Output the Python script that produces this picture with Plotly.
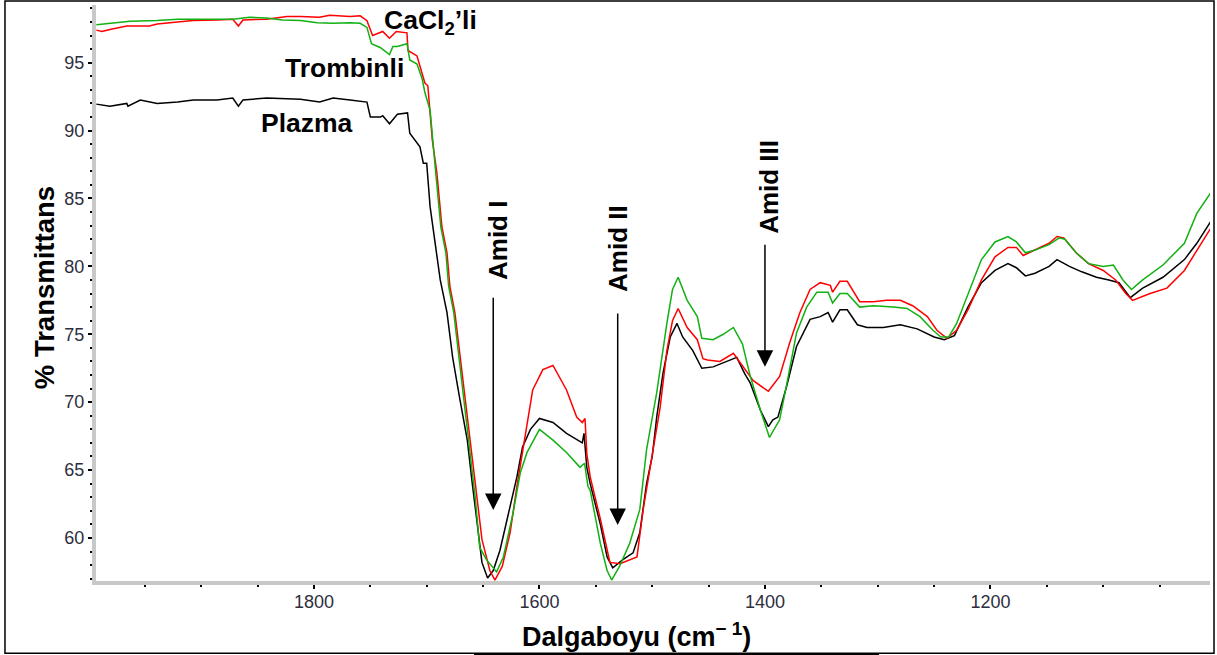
import plotly.graph_objects as go

# ---------------- data (wavenumber cm-1, % transmittance) ----------------
plazma_wn = [1993, 1981, 1966, 1965, 1954, 1939, 1921, 1907, 1886, 1872, 1867, 1863, 1842, 1812,
             1795, 1783, 1768, 1753, 1750, 1741, 1739, 1733, 1726, 1717, 1715, 1706, 1703, 1700,
             1697, 1693, 1688, 1682, 1677, 1671, 1664, 1660, 1655, 1651, 1646, 1641, 1635, 1626,
             1620, 1615, 1608, 1600, 1588, 1576, 1562, 1560.5, 1558, 1555, 1546, 1540, 1535, 1526,
             1517, 1511, 1505, 1500, 1496, 1490.5, 1484, 1478, 1473, 1464, 1456, 1446, 1437, 1425,
             1418, 1413, 1404, 1397, 1393, 1388.5, 1381, 1372, 1360, 1351, 1344, 1340, 1333.5, 1327,
             1318, 1309.5, 1295, 1280, 1265, 1250, 1241, 1232, 1220, 1208, 1196, 1184.5, 1177, 1169,
             1160.5, 1148, 1141, 1130, 1119, 1106, 1095, 1086, 1076, 1065, 1047, 1028, 1017, 1004]
plazma_T = [91.95, 91.8, 92.0, 91.8, 92.25, 92.0, 92.1, 92.25, 92.25, 92.4, 91.8, 92.25, 92.4, 92.3,
            92.1, 92.4, 92.25, 92.1, 91.0, 91.0, 91.1, 90.5, 91.2, 91.3, 89.8, 88.8, 87.6, 87.6,
            84.4, 81.9, 79.0, 76.6, 73.3, 70.4, 67.2, 64.3, 60.8, 58.2, 57.05, 57.6, 59.1, 62.3,
            64.5, 66.7, 68.0, 68.8, 68.5, 67.7, 67.0, 67.7, 65.2, 64.0, 61.0, 58.6, 57.8, 58.4,
            58.9, 60.4, 64.0, 66.0, 68.9, 72.1, 74.8, 75.8, 74.8, 73.8, 72.5, 72.6, 72.9, 73.3,
            72.1, 71.4, 69.4, 68.2, 68.7, 68.9, 71.1, 74.1, 76.1, 76.3, 76.6, 75.9, 76.8, 76.8,
            75.7, 75.5, 75.5, 75.7, 75.4, 74.8, 74.6, 74.9, 77.0, 78.8, 79.7, 80.2, 79.9, 79.3,
            79.5, 80.0, 80.5, 80.0, 79.6, 79.2, 79.0, 78.8, 77.7, 78.4, 79.2, 80.5, 81.7, 83.4]

trombin_wn = [1993, 1976, 1963, 1939, 1921, 1901, 1872, 1857, 1842, 1828, 1812, 1797, 1783, 1768,
              1759, 1753, 1749, 1741, 1733, 1730, 1726, 1717.5, 1715, 1708.6, 1704, 1701.6, 1697,
              1692, 1687.5, 1683, 1680.5, 1676, 1669, 1663, 1657, 1653, 1647, 1638, 1632, 1623.5,
              1617, 1611, 1600, 1588, 1576, 1564, 1560, 1557, 1555, 1546, 1540, 1536, 1529, 1520,
              1511, 1505, 1496, 1487, 1482, 1477, 1469, 1460, 1456, 1446, 1437, 1428, 1422, 1420,
              1413, 1404, 1396, 1387, 1380.5, 1372, 1363, 1354, 1344, 1340, 1333.5, 1327, 1316,
              1304, 1286, 1274, 1262.5, 1251, 1244, 1237, 1230, 1220, 1208, 1196, 1184.5, 1177,
              1169, 1160.5, 1148, 1139, 1134, 1124, 1113, 1100, 1091, 1082.5, 1075, 1065, 1047,
              1028, 1017, 1004]
trombin_T = [97.8, 97.95, 98.05, 98.1, 98.2, 98.2, 98.2, 98.35, 98.3, 98.15, 98.1, 97.95, 97.9, 97.95,
             97.9, 97.6, 96.4, 96.1, 95.6, 96.2, 96.2, 96.4, 95.2, 94.9, 93.8, 92.8, 91.5,
             86.9, 82.9, 81.0, 78.5, 76.6, 71.6, 67.2, 63.0, 59.3, 58.4, 57.5, 58.6, 61.8,
             64.8, 66.3, 68.0, 67.2, 66.3, 65.2, 65.5, 63.8, 63.5, 59.6, 57.6, 56.9, 57.9, 59.6,
             62.1, 66.5, 70.7, 75.8, 78.3, 79.2, 77.5, 76.3, 74.7, 74.6, 75.0, 75.5, 74.6, 74.3,
             71.9, 69.4, 67.4, 68.7, 71.4, 75.1, 77.0, 78.1, 78.1, 77.3, 78.0, 78.0, 77.0,
             77.1, 77.0, 76.9, 76.3, 75.3, 74.8, 74.8, 75.8, 78.0, 80.5, 81.8, 82.2, 81.8,
             81.0, 81.2, 81.6, 82.1, 82.0, 81.0, 80.2, 80.0, 80.1, 79.0, 78.3, 79.0, 80.1,
             81.7, 83.9, 85.5]

cacl2_wn = [1993, 1988, 1981, 1966, 1946, 1939, 1921, 1907, 1886, 1872, 1867, 1863, 1842, 1824,
            1812, 1795, 1786, 1768, 1759, 1753, 1748, 1739, 1733, 1727, 1717.5, 1716.6, 1708.6,
            1704, 1701.6, 1699, 1697, 1695, 1691, 1686.5, 1682, 1679.4, 1675, 1668, 1661.6, 1655.4,
            1651, 1644, 1639.5, 1633, 1626, 1620, 1613, 1606, 1597, 1588, 1576, 1567, 1562, 1559.6,
            1558, 1555, 1546, 1537.5, 1528.6, 1520, 1513.5, 1508, 1502, 1493, 1487, 1482, 1477,
            1469, 1460, 1455, 1451, 1440, 1428, 1419.5, 1410.6, 1397, 1387, 1378, 1369, 1360,
            1351, 1342, 1340, 1333.5, 1327, 1316, 1304, 1292, 1280, 1269, 1256, 1247.5, 1238.6,
            1230, 1220, 1208, 1196, 1184.5, 1177, 1171, 1160.5, 1148, 1141, 1135, 1124, 1113,
            1100, 1089, 1080, 1074, 1058.5, 1043.5, 1028, 1017, 1004]
cacl2_T = [97.4, 97.3, 97.45, 97.7, 97.7, 97.85, 98.0, 98.1, 98.15, 98.2, 97.7, 98.15, 98.2, 98.4,
           98.4, 98.35, 98.5, 98.4, 98.45, 98.1, 97.0, 97.3, 96.8, 97.3, 97.2, 95.9, 95.5,
           94.2, 93.5, 93.3, 91.5, 89.3, 86.9, 82.9, 81.0, 78.5, 76.6, 71.6, 67.2, 63.0,
           59.9, 57.6, 56.9, 57.9, 60.4, 63.8, 67.2, 70.9, 72.4, 72.7, 70.9, 68.9, 68.5, 68.8,
           66.2, 64.5, 61.4, 58.2, 58.1, 58.4, 58.6, 62.1, 65.2, 69.6, 73.8, 76.0, 76.9,
           75.5, 74.6, 73.2, 73.1, 73.0, 73.6, 72.6, 71.6, 70.8, 71.9, 74.4, 76.6, 78.3,
           78.8, 78.6, 78.1, 78.9, 78.9, 77.4, 77.4, 77.5, 77.5, 77.1, 76.3, 75.3, 74.7,
           75.3, 76.8, 79.0, 80.7, 81.4, 81.4, 80.8, 81.2, 81.7, 82.2, 82.1, 81.0, 80.2,
           79.7, 79.0, 78.0, 77.5, 78.0, 78.4, 79.7, 81.2, 82.9]

x_ticks = [1800, 1600, 1400, 1200]
y_ticks = [60, 65, 70, 75, 80, 85, 90, 95]

# ---------------- figure ----------------
BOLD = "Liberation Sans, Arial, sans-serif"
TICKF = "Liberation Sans Narrow, Arial Narrow, Liberation Sans, Arial, sans-serif"

fig = go.Figure()
fig.add_trace(go.Scatter(x=plazma_wn, y=plazma_T, mode="lines", name="Plazma",
                         line=dict(color="#000000", width=1.5)))
fig.add_trace(go.Scatter(x=cacl2_wn, y=cacl2_T, mode="lines", name="CaCl2'li",
                         line=dict(color="#ff0000", width=1.5)))
fig.add_trace(go.Scatter(x=trombin_wn, y=trombin_T, mode="lines", name="Trombinli",
                         line=dict(color="#12b012", width=1.5)))

fig.update_layout(
    width=1217, height=655,
    margin=dict(l=96, r=7, t=5, b=74),
    paper_bgcolor="white", plot_bgcolor="white",
    showlegend=False,
    font=dict(family=BOLD, color="black"),
)

fig.update_xaxes(
    range=[1993.3, 1005.3], tickvals=x_ticks, showgrid=False, zeroline=False,
    showline=True, linecolor="#c8c8c8", linewidth=4,
    ticks="outside", ticklen=4, tickwidth=2, tickcolor="black",
    minor=dict(dtick=50, tick0=1200, ticks="outside", ticklen=2, tickwidth=2, tickcolor="black"),
    tickfont=dict(family=TICKF, size=18, color="#2e2e3e"),
    ticklabelstandoff=-3,
)
fig.update_yaxes(
    range=[56.83, 99.25], tickvals=y_ticks, showgrid=False, zeroline=False,
    showline=True, linecolor="#c8c8c8", linewidth=4,
    ticks="outside", ticklen=4, tickwidth=2, tickcolor="black",
    minor=dict(dtick=1, tick0=60, ticks="outside", ticklen=2, tickwidth=2, tickcolor="black"),
    tickfont=dict(family=TICKF, size=18, color="#2e2e3e"),
)

# axis titles as annotations (paper coords)
fig.add_annotation(text="<b>% Transmittans</b>", xref="paper", yref="paper",
                   x=-0.0467, y=0.51, textangle=-90, showarrow=False,
                   xanchor="center", yanchor="middle",
                   font=dict(size=27.5, family=BOLD, color="black"))
fig.add_annotation(text="<b>Dalgaboyu (cm<sup>− 1</sup>)</b>", xref="paper", yref="paper",
                   x=0.485, y=-0.093, showarrow=False,
                   xanchor="center", yanchor="middle",
                   font=dict(size=27, family=BOLD, color="black"))

# series labels
for txt, xx, yy in [("CaCl<sub>2</sub>’li", 1696.2, 98.0),
                    ("Trombinli", 1772.5, 94.6),
                    ("Plazma", 1806.2, 90.56)]:
    fig.add_annotation(text="<b>" + txt + "</b>", x=xx, y=yy, showarrow=False,
                       xanchor="center", yanchor="middle",
                       font=dict(size=26.5, family=BOLD, color="black"))

# band labels (rotated) and arrows
for txt, xx, yy in [("Amid I", 1636.8, 81.94), ("Amid II", 1530.4, 81.35), ("Amid III", 1396.5, 85.85)]:
    fig.add_annotation(text="<b>" + txt + "</b>", x=xx, y=yy, showarrow=False, textangle=-90,
                       xanchor="center", yanchor="middle",
                       font=dict(size=26, family=BOLD, color="black"))

for xx, tip, tail in [(1641, 62.06, 77.8), (1530.6, 60.96, 76.64), (1400, 72.6, 81.7)]:
    fig.add_annotation(x=xx, y=tip, ax=xx, ay=tail, axref="x", ayref="y", text="",
                       showarrow=True, arrowhead=2, arrowsize=2.2, arrowwidth=1.5,
                       arrowcolor="black", standoff=0)

# outer frame
fig.add_shape(type="rect", xref="paper", yref="paper", x0=-0.0817, x1=1.0036, y0=-0.1255, y1=1.007,
              line=dict(color="black", width=1.5))
fig.add_shape(type="line", xref="paper", yref="paper", x0=0.3393, x1=0.7029, y0=-0.1285, y1=-0.1285,
              line=dict(color="black", width=3))

fig.write_html("out.html", config={"displayModeBar": False},
               post_script="document.body.style.margin='0px';document.body.style.overflow='hidden';")
